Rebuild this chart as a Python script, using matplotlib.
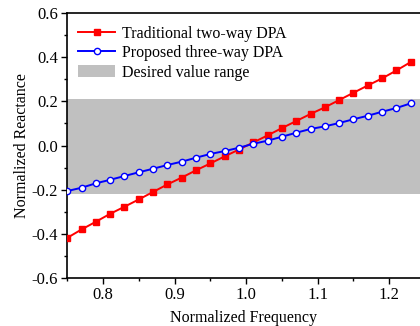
import matplotlib.pyplot as plt
import numpy as np
from matplotlib.patches import Patch
from matplotlib.lines import Line2D
from matplotlib.ticker import MultipleLocator

plt.rcParams['font.family'] = ['Liberation Serif', 'DejaVu Serif']

# Normalized frequency samples
freq = [0.75, 0.77, 0.79, 0.81, 0.83, 0.85, 0.87, 0.89, 0.91, 0.93, 0.95, 0.97, 0.99,
        1.01, 1.03, 1.05, 1.07, 1.09, 1.11, 1.13, 1.15, 1.17, 1.19, 1.21, 1.23]

# Traditional two-way DPA reactance
two_way = [-0.418, -0.380, -0.345, -0.309, -0.277, -0.244, -0.210, -0.176, -0.145, -0.112,
           -0.081, -0.049, -0.018, 0.014, 0.046, 0.079, 0.111, 0.143, 0.173, 0.206,
           0.239, 0.272, 0.304, 0.340, 0.378]

# Proposed three-way DPA reactance
three_way = [-0.206, -0.191, -0.171, -0.155, -0.138, -0.121, -0.105, -0.088, -0.073, -0.055,
             -0.038, -0.025, -0.010, 0.008, 0.022, 0.040, 0.058, 0.075, 0.087, 0.102,
             0.119, 0.135, 0.153, 0.170, 0.191]

# Desired value range
band_low, band_high = -0.22, 0.21

fig = plt.figure(figsize=(4.2, 3.26), dpi=100)
ax = fig.add_axes([0.16, 0.147, 0.84, 0.813])

ax.axhspan(band_low, band_high, color='#c0c0c0', lw=0, zorder=0)
ax.plot(freq, two_way, color='red', lw=1.4, marker='s', ms=4.5, mec='red', mfc='red', zorder=3)
ax.plot(freq, three_way, color='blue', lw=1.4, marker='o', ms=4.5, mec='blue', mfc='white',
        mew=1.0, zorder=3)

ax.set_xlim(0.75, 1.243)
ax.set_ylim(-0.6, 0.6)
ax.xaxis.set_major_locator(MultipleLocator(0.1))
ax.xaxis.set_minor_locator(MultipleLocator(0.05))
ax.yaxis.set_major_locator(MultipleLocator(0.2))
ax.yaxis.set_minor_locator(MultipleLocator(0.1))
ax.yaxis.set_major_formatter(plt.FuncFormatter(lambda v, p: f'{v:.1f}'))
ax.xaxis.set_major_formatter(plt.FuncFormatter(lambda v, p: f'{v:.1f}'))
ax.tick_params(which='major', direction='out', length=4.5, width=1, labelsize=12, pad=2)
ax.tick_params(which='minor', direction='out', length=2.5, width=1)
for s in ax.spines.values():
    s.set_linewidth(1.2)
ax.spines['right'].set_visible(False)

ax.set_xlabel('Normalized Frequency', fontsize=11.5, labelpad=5)
ax.set_ylabel('Normalized Reactance', fontsize=11.5, labelpad=1)

handles = [
    Line2D([], [], color='red', lw=1.4, marker='s', ms=4.5, mfc='red'),
    Line2D([], [], color='blue', lw=1.4, marker='o', ms=4.5, mfc='white'),
    Patch(facecolor='#c0c0c0', edgecolor='none'),
]
labels = ['Traditional two-way DPA', 'Proposed three-way DPA', 'Desired value range']
ax.legend(handles, labels, loc='upper left', frameon=False, fontsize=11.5,
          handlelength=2.3, handletextpad=0.4, labelspacing=0.22,
          borderaxespad=0.3, bbox_to_anchor=(0.0, 0.995))

fig.savefig('out.png', dpi=100)
